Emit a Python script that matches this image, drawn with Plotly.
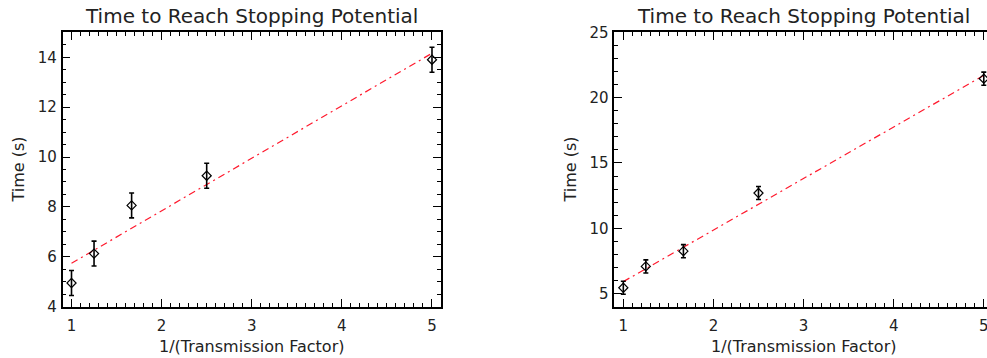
import plotly.graph_objects as go

# ---- data ----
x_vals = [1.0, 1.25, 1.667, 2.5, 5.0]

left_time = [4.95, 6.13, 8.06, 9.25, 13.9]
left_err = [0.5, 0.5, 0.5, 0.5, 0.5]
left_fit_x = [1.0, 5.0]
left_fit_y = [5.74, 14.16]

right_time = [5.45, 7.08, 8.25, 12.7, 21.45]
right_err = [0.5, 0.5, 0.5, 0.5, 0.5]
right_fit_x = [1.0, 5.0]
right_fit_y = [5.92, 21.7]

title_text = "Time to Reach Stopping Potential"
x_title = "1/(Transmission Factor)"
y_title = "Time (s)"

W, H = 987, 358
FONT = "DejaVu Sans"
TXT = "#222222"

def px_x(p):
    return p / W

def px_y(p):
    return 1 - p / H

fig = go.Figure()

def add_panel(xs, ys, errs, fx, fy, xa, ya):
    fig.add_trace(go.Scatter(
        x=fx, y=fy, mode="lines", xaxis=xa, yaxis=ya,
        line=dict(color="#ff1a2e", width=1.2, dash="7px,4px,2px,4px"),
        showlegend=False, hoverinfo="skip"))
    fig.add_trace(go.Scatter(
        x=xs, y=ys, mode="markers", xaxis=xa, yaxis=ya,
        marker=dict(symbol="diamond-open", size=7, color="black",
                    line=dict(color="black", width=1.2)),
        error_y=dict(type="data", array=errs, visible=True,
                     color="black", thickness=1.6, width=2.5),
        showlegend=False, cliponaxis=False))

add_panel(x_vals, left_time, left_err, left_fit_x, left_fit_y, "x", "y")
add_panel(x_vals, right_time, right_err, right_fit_x, right_fit_y, "x2", "y2")

# panel geometry (pixels)
L1, R1 = 62.5, 441.0
L2 = 614.3
TOP, BOT = 32.3, 306.7
ppu = (R1 - L1) / 4.2          # pixels per x unit
R2_full = L2 + ppu * 4.2       # right panel's full right edge (outside window)
r2_max = 0.9 + (W - L2) / ppu  # visible part of the right panel

tickfont = dict(family=FONT, size=15, color=TXT)

def xaxis_common(dom, rng, anchor):
    return dict(
        domain=dom, range=rng, anchor=anchor,
        tickmode="linear", tick0=1, dtick=1,
        ticks="inside", ticklen=8, tickwidth=1, tickcolor="black",
        showline=True, linecolor="black", linewidth=1.5, mirror="allticks",
        showgrid=False, zeroline=False, tickfont=tickfont,
        ticklabelstandoff=5, ticklabeloverflow="allow",
        minor=dict(dtick=0.1, tick0=1, ticks="inside", ticklen=4,
                   tickcolor="black", tickwidth=1, showgrid=False))

def yaxis_common(rng, dtick, mdtick, anchor, mirror):
    return dict(
        domain=[px_y(BOT), px_y(TOP)], range=rng, anchor=anchor,
        tickmode="linear", tick0=0, dtick=dtick,
        ticks="inside", ticklen=8, tickwidth=1, tickcolor="black",
        showline=True, linecolor="black", linewidth=1.5, mirror=mirror,
        showgrid=False, zeroline=False, tickfont=tickfont,
        ticklabelstandoff=1, ticklabeloverflow="allow",
        minor=dict(dtick=mdtick, tick0=0, ticks="inside", ticklen=4,
                   tickcolor="black", tickwidth=1, showgrid=False))

fig.update_layout(
    width=W, height=H,
    margin=dict(l=0, r=0, t=0, b=0, autoexpand=False),
    paper_bgcolor="white", plot_bgcolor="white",
    xaxis=xaxis_common([px_x(L1), px_x(R1)], [0.9, 5.1], "y"),
    yaxis=yaxis_common([4, 15], 2, 0.5, "x", "allticks"),
    xaxis2=xaxis_common([px_x(L2), 1.0], [0.9, r2_max], "y2"),
    yaxis2=yaxis_common([4, 25], 5, 1, "x2", False),
)

ann = []
for cx in [(L1 + R1) / 2, (L2 + R2_full) / 2]:
    ann.append(dict(text=title_text, x=px_x(cx), y=px_y(16), xref="paper", yref="paper",
                    xanchor="center", yanchor="middle", showarrow=False,
                    font=dict(family=FONT, size=20, color=TXT)))
    ann.append(dict(text=x_title, x=px_x(cx), y=px_y(346), xref="paper", yref="paper",
                    xanchor="center", yanchor="middle", showarrow=False,
                    font=dict(family=FONT, size=16, color=TXT)))
for cx in [18, 570]:
    ann.append(dict(text=y_title, x=px_x(cx), y=px_y((TOP + BOT) / 2), xref="paper", yref="paper",
                    xanchor="center", yanchor="middle", showarrow=False, textangle=-90,
                    font=dict(family=FONT, size=16, color=TXT)))
fig.update_layout(annotations=ann)

page_fix = (
    "document.body.style.margin='0';"
    "document.body.style.overflow='hidden';"
    "document.documentElement.style.overflow='hidden';"
)

fig.write_html("out.html", post_script=page_fix,
               config={"displayModeBar": False})
